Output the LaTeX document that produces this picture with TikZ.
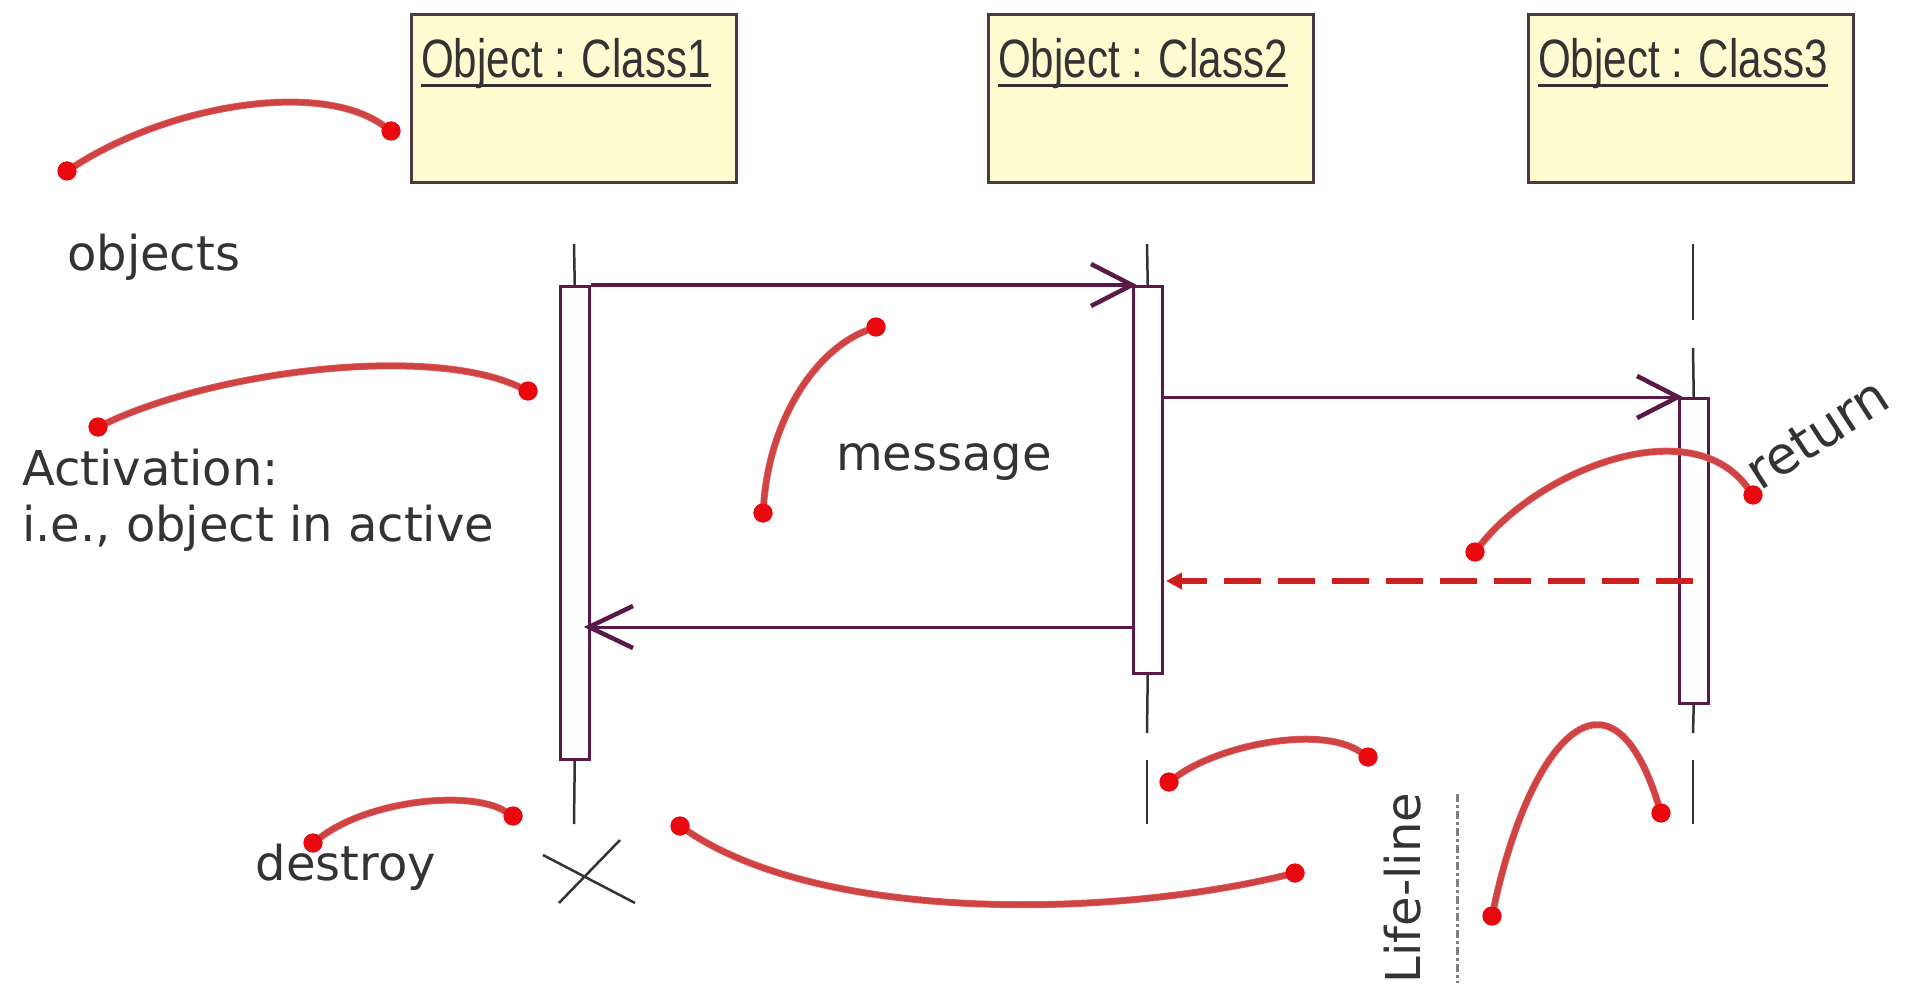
\documentclass[tikz,border=0pt]{standalone}
\usepackage{fontspec}
\setmainfont{DejaVu Sans}
\newfontfamily\boxfont[FakeStretch=0.78]{Liberation Sans}
\usetikzlibrary{arrows.meta}

\definecolor{boxfill}{HTML}{FDFBCF}
\definecolor{boxline}{HTML}{4A3A40}
\definecolor{msgline}{HTML}{5A1A48}
\definecolor{noteRed}{HTML}{E86464}
\definecolor{noteDark}{HTML}{B01E1E}
\definecolor{dotRed}{HTML}{E8080E}
\definecolor{retRed}{HTML}{CC1F1F}
\definecolor{ink}{HTML}{333333}

\begin{document}
\begin{tikzpicture}[x=1pt,y=-1pt,
  objbox/.style={draw=boxline, fill=boxfill, line width=3pt, anchor=north west,
    minimum width=325pt, minimum height=168pt, inner sep=0pt},
  objlabel/.style={font=\boxfont\fontsize{54}{60}\selectfont, text=ink, inner sep=0pt, anchor=base west},
  actbar/.style={draw=msgline, fill=white, line width=2.5pt, anchor=north west,
    minimum width=29pt, inner sep=0pt},
  lifeline/.style={draw=ink, line width=2.5pt},
  msg/.style={draw=msgline, line width=3pt},
  msghead/.style={draw=msgline, line width=4.5pt, line join=miter},
  retmsg/.style={draw=retRed, line width=6pt, dash pattern=on 37pt off 17pt,
    -{Triangle[length=16pt,width=16pt]}},
  note/.style={draw=noteRed, line width=7pt, line cap=round,
    postaction={draw=noteDark, line width=6pt, dash pattern=on 1.5pt off 2.5pt, opacity=0.45}},
  dot/.style={circle, fill=dotRed, inner sep=0pt, minimum size=19pt},
  txt/.style={font=\fontsize{48}{56}\selectfont, text=ink, inner sep=0pt}
]
\useasboundingbox[fill=white] (0,0) rectangle (1915,987);

% object boxes
\node[objbox] (box1) at (410,13) {};
\node[objbox] (box2) at (987,13) {};
\node[objbox] (box3) at (1527,13) {};
\node[objlabel] (lab1) at (421,78) {Object : Class1};
\node[objlabel] (lab2) at (998,78) {Object : Class2};
\node[objlabel] (lab3) at (1538,78) {Object : Class3};
\foreach \l in {lab1,lab2,lab3}
  \draw[ink, line width=3pt] ([yshift=-8pt]\l.base west) -- ([yshift=-8pt]\l.base east);

% activation bars
\node[actbar, minimum height=473pt] (bar1) at (559,285) {};
\node[actbar, minimum height=387pt] (bar2) at (1132,285) {};
\node[actbar, minimum height=305pt] (bar3) at (1678,397) {};

% life-lines
\coordinate (top1) at (574,244);
\coordinate (top2) at (1147,244);
\coordinate (top3) at (1693,244);
\coordinate (end1) at (574,824);
\draw[lifeline] (top1) -- (bar1.north);
\draw[lifeline] (bar1.south) -- (end1);
\draw[lifeline] (top2) -- (bar2.north);
\draw[lifeline] (bar2.south) -- (1147,733);
\draw[lifeline] (1147,760) -- (1147,824);
\draw[lifeline] (top3) -- (1693,320);
\draw[lifeline] (1693,348) -- (bar3.north);
\draw[lifeline] (bar3.south) -- (1693,733);
\draw[lifeline] (1693,760) -- (1693,824);

% destroy mark
\draw[ink, line width=2.5pt] (543,855) -- (635,903);
\draw[ink, line width=2.5pt] (559,903) -- (620,840);

% messages
\draw[msg] (bar1.north east) -- (bar2.north west);
\draw[msghead] (bar2.north west) ++(-41,-21) -- (bar2.north west) -- ++(-41,21);

\coordinate (m2s) at (bar2.east |- bar3.north);
\draw[msg] (m2s) -- (bar3.north west);
\draw[msghead] (bar3.north west) ++(-41,-21) -- (bar3.north west) -- ++(-41,21);

\coordinate (m3s) at (1132,627);
\coordinate (m3e) at (589,627);
\draw[msg] (m3s) -- (m3e);
\draw[msghead] (m3e) ++(44,-21) -- (m3e) -- ++(44,21);

\coordinate (rs) at (1693,581);
\coordinate (re) at (1166,581);
\draw[retmsg] (rs) -- (re);

% texts
\node[txt, anchor=base west] (tobj) at (67,271) {objects};
\node[txt, anchor=base west] (tact1) at (22,485) {Activation:};
\node[txt, anchor=base west] (tact2) at (22,541) {i.e., object in active};
\node[txt, anchor=base] (tmsg) at (944,470) {message};
\node[txt, anchor=base] (tdes) at (346,880) {destroy};
\node[txt, font=\fontsize{52}{60}\selectfont, anchor=base west, rotate=33] (tret) at (1760,492) {return};
\node[txt, anchor=base, rotate=90] (tlife) at (1420,888) {Life-line};
\coordinate (ls) at (1457,794);
\coordinate (le) at (1457,983);
\draw[gray, line width=3pt, dash pattern=on 8pt off 3pt on 3pt off 3pt] (ls) -- (le);

% callout strokes
\node[dot] (o1) at (67,171) {};
\node[dot] (o2) at (391,131) {};
\draw[note] (o1) .. controls (170,105) and (320,80) .. (o2);

\node[dot] (a1) at (98,427) {};
\node[dot] (a2) at (528,391) {};
\draw[note] (a1) .. controls (220,370) and (430,345) .. (a2);

\node[dot] (g1) at (763,513) {};
\node[dot] (g2) at (876,327) {};
\draw[note] (g1) .. controls (770,420) and (815,350) .. (g2);

\node[dot] (r1) at (1475,552) {};
\node[dot] (r2) at (1753,495) {};
\draw[note] (r1) .. controls (1540,470) and (1690,410) .. (r2);

\node[dot] (l1) at (1169,782) {};
\node[dot] (l2) at (1368,757) {};
\draw[note] (l1) .. controls (1220,745) and (1320,725) .. (l2);

\node[dot] (d1) at (313,843) {};
\node[dot] (d2) at (513,816) {};
\draw[note] (d1) .. controls (370,800) and (470,790) .. (d2);

\node[dot] (w1) at (680,826) {};
\node[dot] (w2) at (1295,873) {};
\draw[note] (w1) .. controls (820,920) and (1100,920) .. (w2);

\node[dot] (c1) at (1492,916) {};
\node[dot] (c2) at (1661,813) {};
\draw[note] (c1) .. controls (1530,740) and (1610,650) .. (c2);

% redraw the dots over the strokes
\foreach \p in {o1,o2,a1,a2,g1,g2,r1,r2,l1,l2,d1,d2,w1,w2,c1,c2}
  \fill[dotRed] (\p) circle (9.5pt);
\end{tikzpicture}
\end{document}
